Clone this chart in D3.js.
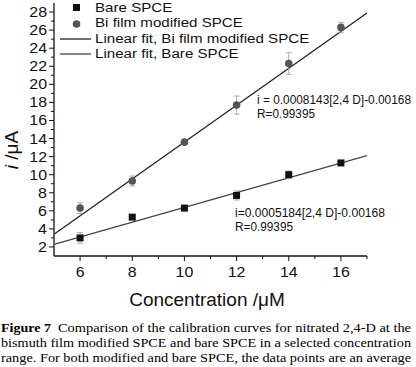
<!DOCTYPE html>
<html>
<head>
<meta charset="utf-8">
<script src="https://cdn.jsdelivr.net/npm/d3@7"></script>
<style>
  body { margin: 0; background: #fff; }
  svg { display: block; }
  text { font-family: "Liberation Sans", Arial, sans-serif; fill: #111; }
  text.cap { font-family: "Liberation Serif", "DejaVu Serif", serif; fill: #000; }
</style>
</head>
<body>
<svg id="chart" width="416" height="367"></svg>
<script>
// concentrations (uM)
const conc = [6, 8, 10, 12, 14, 16];
// Bi film modified SPCE
const biMean = [6.3, 9.3, 13.6, 17.7, 22.3, 26.3];
const biErr = [0.6, 0.55, 0.15, 1.0, 1.2, 0.55];
// Bare SPCE
const bareMean = [3.0, 5.3, 6.3, 7.7, 10.0, 11.3];
const bareErr = [0.6, 0.2, 0.15, 0.5, 0.4, 0.2];
// fitted lines read at x = 5 and x = 17
const fitX = [5, 17];
const biFit = [3.4, 27.9];
const bareFit = [2.3, 12.1];

const xTicks = [6, 8, 10, 12, 14, 16];
const yTicks = [2, 4, 6, 8, 10, 12, 14, 16, 18, 20, 22, 24, 26, 28];

const legendItems = ["Bare SPCE", "Bi film modified SPCE", "Linear fit, Bi film modified SPCE", "Linear fit, Bare SPCE"];
const biEq = ["i = 0.0008143[2,4 D]-0.00168", "R=0.99395"];
const bareEq = ["i=0.0005184[2,4 D]-0.00168", "R=0.99395"];
const caption = [
  "Comparison of the calibration curves for nitrated 2,4-D at the",
  "bismuth film modified SPCE and bare SPCE in a selected concentration",
  "range. For both modified and bare SPCE, the data points are an average"
];

const svg = d3.select("#chart");
const x = d3.scaleLinear().domain([5, 17]).range([54, 367]);
const y = d3.scaleLinear().domain([1, 29]).range([256, 3]);

// axes
const xAxis = svg.append("g").attr("transform", "translate(0,256)");
xAxis.append("line").attr("x1", x(5)).attr("x2", x(17)).attr("stroke", "#111").attr("stroke-width", 1.3);
xAxis.selectAll(".tk").data(d3.range(6, 18)).join("line")
  .attr("x1", d => x(d)).attr("x2", d => x(d))
  .attr("y1", 0).attr("y2", d => d % 2 === 0 ? 5 : 3)
  .attr("stroke", "#111");
xAxis.selectAll(".lb").data(xTicks).join("text")
  .attr("transform", d => `translate(${x(d)},21) scale(1.1,1)`)
  .attr("text-anchor", "middle")
  .style("font-size", "14.5px")
  .text(d => d);

const yAxis = svg.append("g").attr("transform", "translate(54,0)");
yAxis.append("line").attr("y1", y(1)).attr("y2", y(29)).attr("stroke", "#111").attr("stroke-width", 1.3);
yAxis.selectAll(".tk").data(d3.range(2, 29)).join("line")
  .attr("y1", d => y(d)).attr("y2", d => y(d))
  .attr("x1", 0).attr("x2", d => d % 2 === 0 ? -5 : -3)
  .attr("stroke", "#111");
yAxis.selectAll(".lb").data(yTicks).join("text")
  .attr("transform", d => `translate(-7,${y(d) + 5}) scale(1.1,1)`)
  .attr("text-anchor", "end")
  .style("font-size", "14.5px")
  .text(d => d);

// axis titles
svg.append("text")
  .attr("x", 207).attr("y", 306)
  .attr("text-anchor", "middle")
  .style("font-size", "19px")
  .text("Concentration /μM");

const yt = svg.append("text")
  .attr("transform", "translate(18,150) rotate(-90)")
  .attr("text-anchor", "middle")
  .style("font-size", "19px");
yt.append("tspan").style("font-style", "italic").text("i");
yt.append("tspan").text(" /μA");

// fit lines
const line = d3.line().x(d => x(d[0])).y(d => y(d[1]));
svg.append("path").attr("d", line(d3.zip(fitX, biFit)))
  .attr("fill", "none").attr("stroke", "#222").attr("stroke-width", 1.3);
svg.append("path").attr("d", line(d3.zip(fitX, bareFit)))
  .attr("fill", "none").attr("stroke", "#444").attr("stroke-width", 1.3);

// error bars
function errBars(means, errs) {
  const g = svg.append("g").attr("stroke", "#999").attr("stroke-width", 0.8);
  conc.forEach((c, i) => {
    const cx = x(c), lo = y(means[i] - errs[i]), hi = y(means[i] + errs[i]);
    g.append("line").attr("x1", cx).attr("x2", cx).attr("y1", lo).attr("y2", hi);
    g.append("line").attr("x1", cx - 3).attr("x2", cx + 3).attr("y1", lo).attr("y2", lo);
    g.append("line").attr("x1", cx - 3).attr("x2", cx + 3).attr("y1", hi).attr("y2", hi);
  });
}
errBars(biMean, biErr);
errBars(bareMean, bareErr);

svg.selectAll(".bi").data(conc).join("circle")
  .attr("cx", d => x(d)).attr("cy", (d, i) => y(biMean[i]))
  .attr("r", 3.8).attr("fill", "#555");
svg.selectAll(".bare").data(conc).join("rect")
  .attr("x", d => x(d) - 3.5).attr("y", (d, i) => y(bareMean[i]) - 3.5)
  .attr("width", 7).attr("height", 7).attr("fill", "#111");

// legend
const lg = svg.append("g");
lg.append("rect").attr("x", 73).attr("y", 4).attr("width", 7).attr("height", 7).attr("fill", "#111");
lg.append("circle").attr("cx", 76.5).attr("cy", 24).attr("r", 3.8).attr("fill", "#555");
lg.append("line").attr("x1", 60).attr("x2", 91).attr("y1", 39).attr("y2", 39).attr("stroke", "#222").attr("stroke-width", 1.3);
lg.append("line").attr("x1", 60).attr("x2", 91).attr("y1", 54).attr("y2", 54).attr("stroke", "#444").attr("stroke-width", 1.3);
lg.selectAll("text").data(legendItems).join("text")
  .attr("transform", (d, i) => `translate(95,${12 + i * 15.3}) scale(1.12,1)`)
  .style("font-size", "13.5px")
  .text(d => d);

// fit equations
const eqLen = [154, 58];
svg.selectAll(".beq").data(biEq).join("text")
  .attr("x", 257).attr("y", (d, i) => 104 + i * 14)
  .attr("textLength", (d, i) => eqLen[i]).attr("lengthAdjust", "spacingAndGlyphs")
  .style("font-size", "12px")
  .text(d => d);
const eqLen2 = [150, 58];
svg.selectAll(".req").data(bareEq).join("text")
  .attr("x", 235).attr("y", (d, i) => 217 + i * 14)
  .attr("textLength", (d, i) => eqLen2[i]).attr("lengthAdjust", "spacingAndGlyphs")
  .style("font-size", "12px")
  .text(d => d);

// caption
svg.append("text").attr("class", "cap").attr("x", 1).attr("y", 332)
  .attr("textLength", 50).attr("lengthAdjust", "spacingAndGlyphs")
  .style("font-size", "13.5px").style("font-weight", "bold")
  .text("Figure 7");
svg.append("text").attr("class", "cap").attr("x", 58).attr("y", 332)
  .attr("textLength", 353).attr("lengthAdjust", "spacingAndGlyphs")
  .style("font-size", "13.5px")
  .text(caption[0]);
svg.selectAll(".cl").data(caption.slice(1)).join("text")
  .attr("class", "cap")
  .attr("x", 1).attr("y", (d, i) => 347 + i * 15)
  .attr("textLength", 410).attr("lengthAdjust", "spacingAndGlyphs")
  .style("font-size", "13.5px")
  .text(d => d);
</script>
</body>
</html>
